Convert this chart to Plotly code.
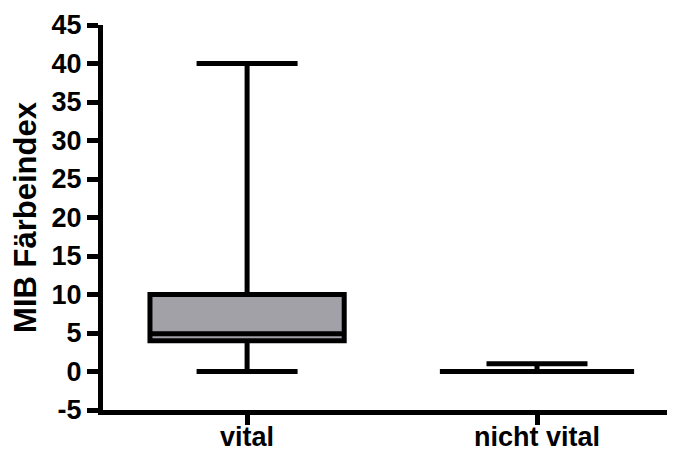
import plotly.graph_objects as go

categories = ["vital", "nicht vital"]
q1_vals = [4.0, 0.0]
median_vals = [4.9, 0.0]
q3_vals = [10.0, 0.0]
min_vals = [0.0, 0.0]
max_vals = [40.0, 1.0]
y_tickvals = [-5, 0, 5, 10, 15, 20, 25, 30, 35, 40, 45]
y_ticktext = ["-5", "0", "5", "10", "15", "20", "25", "30", "35", "40", "45"]
y_title = "MIB Färbeindex"

fig = go.Figure()
fig.add_trace(go.Box(
    x=categories,
    q1=q1_vals,
    median=median_vals,
    q3=q3_vals,
    lowerfence=min_vals,
    upperfence=max_vals,
    width=0.67,
    whiskerwidth=0.52,
    fillcolor="#A2A1A8",
    line=dict(color="black", width=5),
    boxpoints=False,
    hoverinfo="skip",
))

font = "Liberation Sans, Arial, sans-serif"
# the page body has an 8px default margin, so the layout is shifted up/left by 8px
fig.update_layout(
    width=675, height=450,
    margin=dict(l=95, r=8, t=17, b=48),
    paper_bgcolor="white", plot_bgcolor="white",
    showlegend=False,
    font=dict(family=font, color="black"),
)
fig.update_xaxes(
    type="category",
    range=[-0.497, 1.476],
    automargin=False,
    showline=True, linecolor="black", linewidth=5,
    ticks="outside", ticklen=10, tickwidth=5, tickcolor="black",
    ticklabelstandoff=-11,
    showgrid=False, zeroline=False,
    tickfont=dict(family=font, size=27, color="black", weight="bold"),
)
fig.update_yaxes(
    range=[-5, 45],
    automargin=False,
    tickmode="array", tickvals=y_tickvals, ticktext=y_ticktext,
    showline=True, linecolor="black", linewidth=5,
    ticks="outside", ticklen=11, tickwidth=5, tickcolor="black",
    showgrid=False, zeroline=False,
    tickfont=dict(family=font, size=27, color="black", weight="bold"),
    title=dict(text=y_title, font=dict(family=font, size=31, color="black", weight="bold"), standoff=17),
)

fig.write_html("out.html")
